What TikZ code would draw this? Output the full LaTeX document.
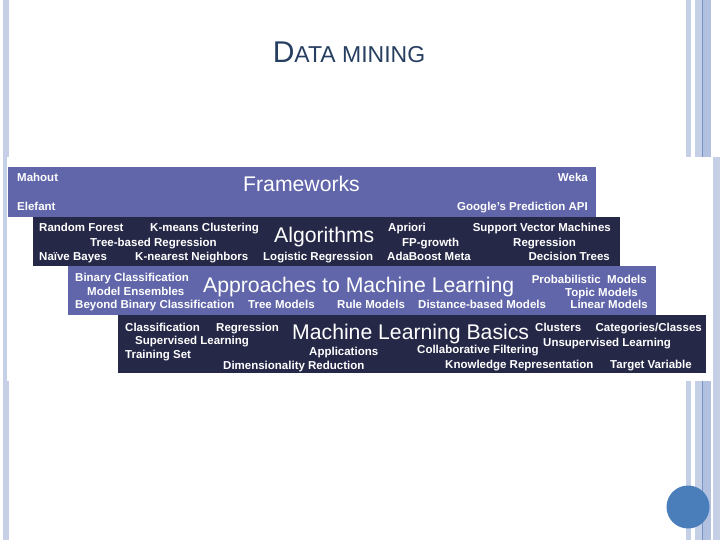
\documentclass[tikz,border=0pt]{standalone}
\usepackage{fontspec}
\setmainfont{Liberation Sans}
\usetikzlibrary{positioning}
\definecolor{bandlight}{RGB}{97,102,170}
\definecolor{banddark}{RGB}{38,40,72}
\definecolor{barblue}{RGB}{197,208,230}
\definecolor{barline}{RGB}{120,148,200}
\definecolor{titleblue}{RGB}{38,62,96}
\definecolor{dotblue}{RGB}{74,126,187}

\begin{document}
\begin{tikzpicture}[x=1pt, y=-1pt,
    band/.style={rectangle, inner sep=0pt, anchor=north west},
    heading/.style={text=white, inner sep=0pt, anchor=base west, font=\fontsize{21.2}{22}\selectfont},
    lbl/.style={text=white, inner sep=0pt, font=\bfseries\fontsize{11.5}{12}\selectfont},
    lblw/.style={lbl, anchor=base west},
    lble/.style={lbl, anchor=base east}]
    \useasboundingbox (0,0) rectangle (720,540);

    % Slide frame
    \fill[barblue] (3,0) rectangle (9,540);
    \fill[barblue] (686,0) rectangle (691,540);
    \fill[barblue] (695,0) rectangle (711,540);
    \fill[barblue!75!barline] (703,0) rectangle (711,540);
    \draw[barline, line width=1pt] (702,0) -- (702,540);
    \fill[barblue] (713,157) rectangle (720,540);
    \fill[white] (7,157) rectangle (713,381);
    \node (dot) [circle, fill=dotblue, minimum size=43pt, inner sep=0pt] at (688,507) {};

    % Title
    \node (title) [text=titleblue, anchor=base, inner sep=0pt] at (349,63)
        {{\fontsize{30}{30}\selectfont D}{\fontsize{23}{24}\selectfont ATA MINING}};

    % Bands
    \node (frameworks_band) [band, fill=bandlight, minimum width=588pt, minimum height=50pt] at (8,167) {};
    \node (algorithms_band) [band, fill=banddark, minimum width=587pt, minimum height=49pt] at (33,217) {};
    \node (approaches_band) [band, fill=bandlight, minimum width=588pt, minimum height=49pt] at (68,266) {};
    \node (basics_band) [band, fill=banddark, minimum width=588pt, minimum height=58pt] at (118,315) {};

    % Frameworks
    \node (frameworks) [heading] at (243,192) {Frameworks};
    \node (mahout) [lblw] at (17,182) {Mahout};
    \node (elefant) [lblw] at (17,211) {Elefant};
    \node (weka) [lble] at (588,182) {Weka};
    \node (google_api) [lble] at (588,211) {Google's Prediction API};

    % Algorithms
    \node (algorithms) [heading] at (274,242) {Algorithms};
    \node (random_forest) [lblw] at (39,232) {Random Forest};
    \node (kmeans) [lblw] at (150,232) {K-means Clustering};
    \node (tree_regression) [lblw] at (90,246) {Tree-based Regression};
    \node (naive_bayes) [lblw] at (39,260) {Naïve Bayes};
    \node (knn) [lblw] at (135,260) {K-nearest Neighbors};
    \node (logistic) [lblw] at (263,260) {Logistic Regression};
    \node (apriori) [lblw] at (388,232) {Apriori};
    \node (fp_growth) [lblw] at (402,246) {FP-growth};
    \node (adaboost) [lblw] at (387,260) {AdaBoost Meta};
    \node (svm) [lble] at (611,232) {Support Vector Machines};
    \node (regression_alg) [lblw] at (513,246) {Regression};
    \node (decision_trees) [lble] at (610,260) {Decision Trees};

    % Approaches to Machine Learning
    \node (approaches) [heading] at (203,292) {Approaches to Machine Learning};
    \node (binary_class) [lblw] at (75,281) {Binary Classification};
    \node (ensembles) [lblw] at (87,295) {Model Ensembles};
    \node (beyond_binary) [lblw] at (75,308) {Beyond Binary Classification};
    \node (tree_models) [lblw] at (248,308) {Tree Models};
    \node (rule_models) [lblw] at (337,308) {Rule Models};
    \node (distance_models) [lblw] at (418,308) {Distance-based Models};
    \node (linear_models) [lble] at (648,308) {Linear Models};
    \node (prob_models) [lble] at (647,283) {Probabilistic\ \ Models};
    \node (topic_models) [lble] at (638,296) {Topic Models};

    % Machine Learning Basics
    \node (basics) [heading] at (292,339) {Machine Learning Basics};
    \node (classification) [lblw] at (125,331) {Classification};
    \node (regression_basic) [lblw] at (216,331) {Regression};
    \node (supervised) [lblw] at (135,344) {Supervised Learning};
    \node (training_set) [lblw] at (125,358) {Training Set};
    \node (applications) [lblw] at (309,355) {Applications};
    \node (dim_reduction) [lblw] at (223,369) {Dimensionality Reduction};
    \node (clusters) [lblw] at (535,331) {Clusters};
    \node (categories) [lble] at (702,331) {Categories/Classes};
    \node (collab_filter) [lblw] at (417,353.5) {Collaborative Filtering};
    \node (unsupervised) [lblw] at (543,346) {Unsupervised Learning};
    \node (knowledge_rep) [lblw] at (445,368) {Knowledge Representation};
    \node (target_var) [lble] at (692,368) {Target Variable};
\end{tikzpicture}
\end{document}
